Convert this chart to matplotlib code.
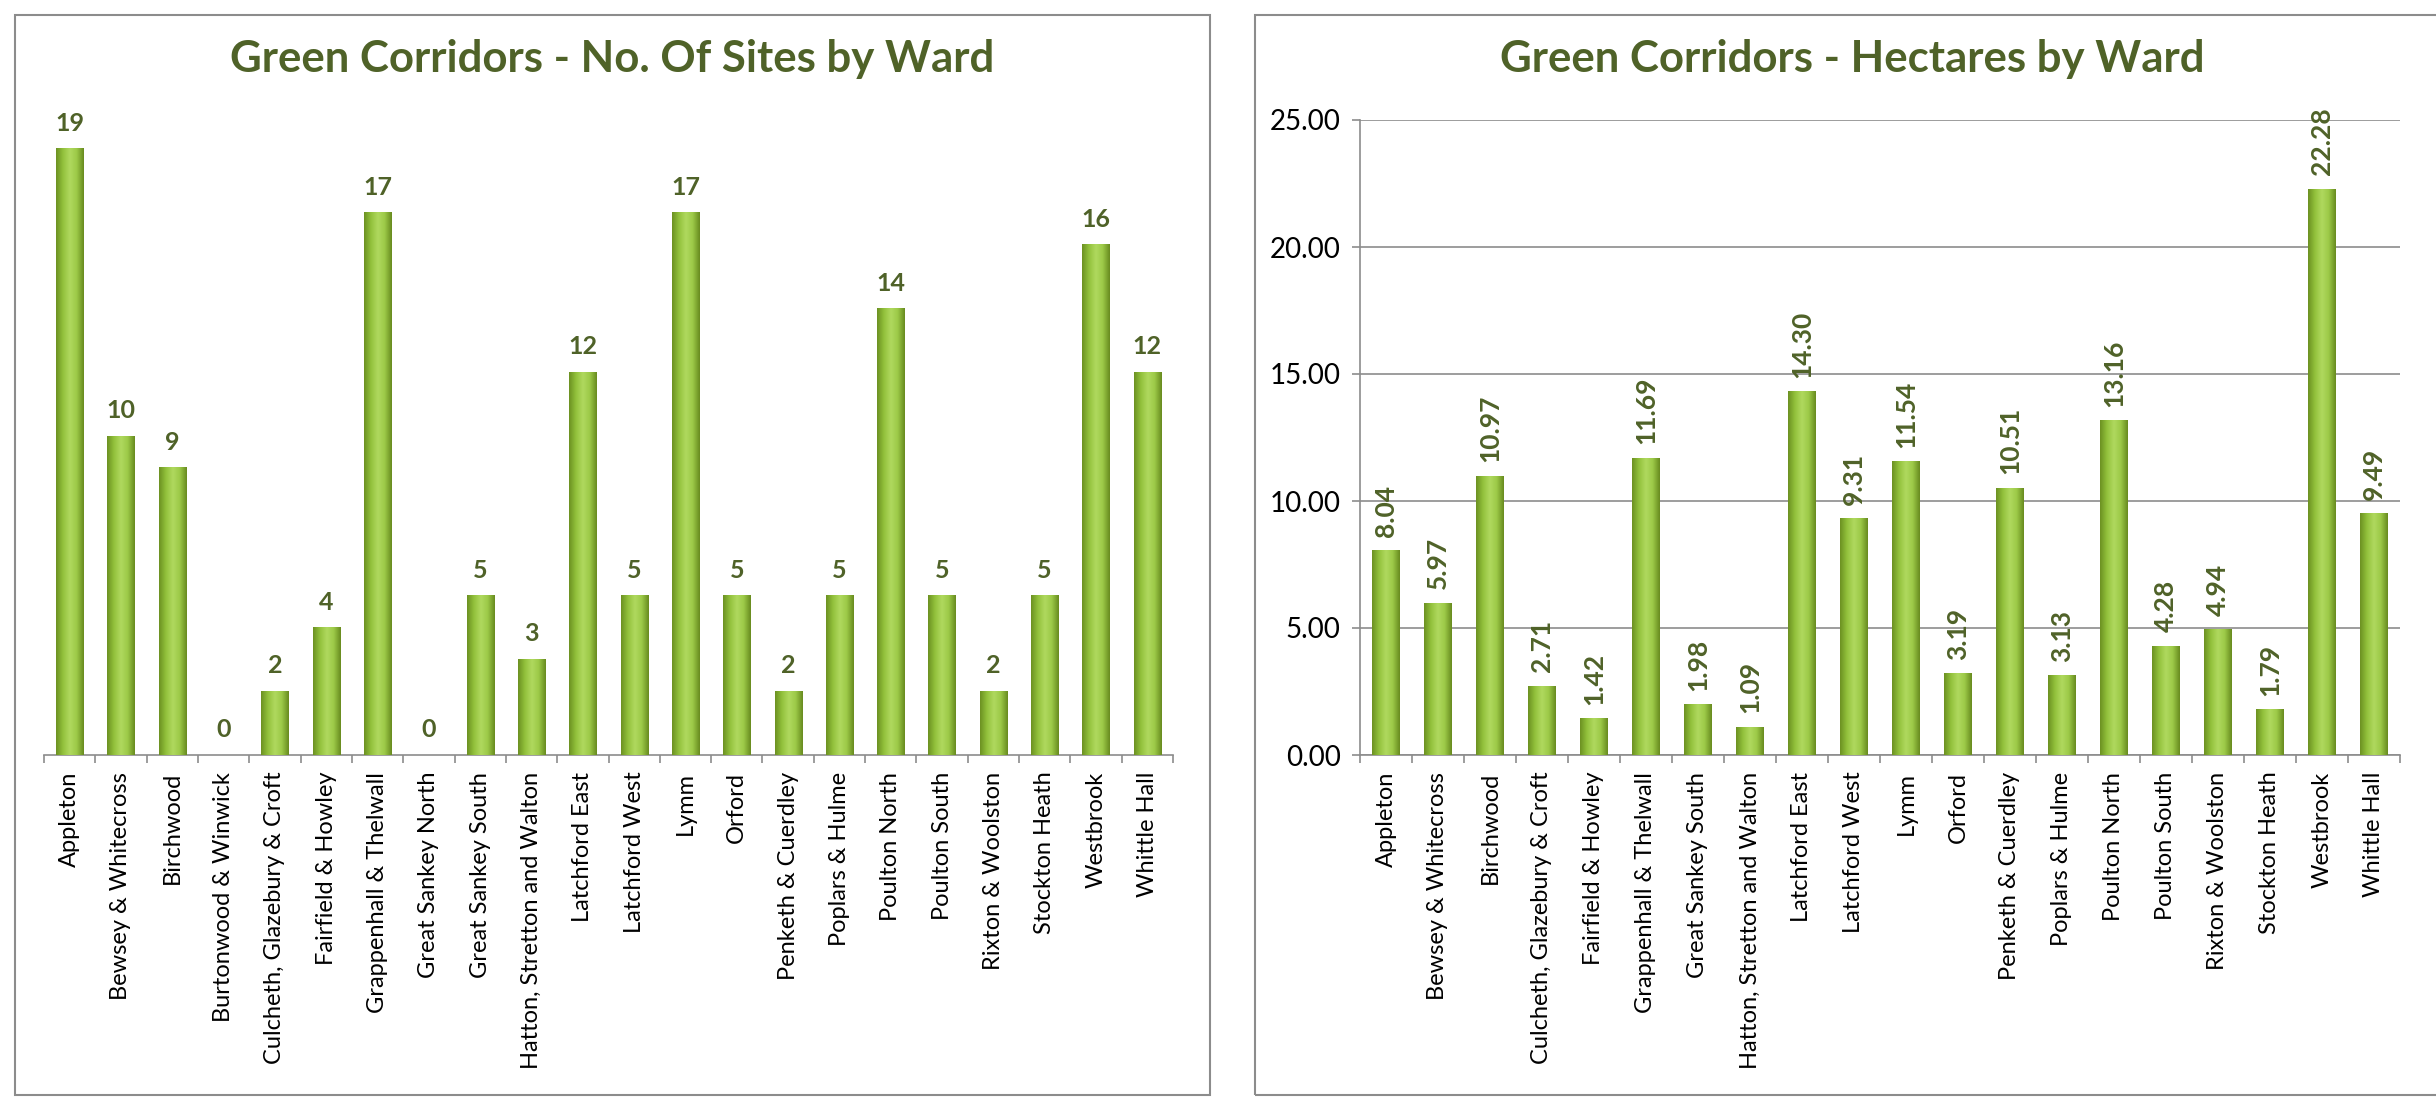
import matplotlib
matplotlib.use('Agg')
import matplotlib.pyplot as plt
import numpy as np
from matplotlib.colors import LinearSegmentedColormap
from matplotlib.patches import Rectangle

# --- data -------------------------------------------------------------
site_wards = ['Appleton', 'Bewsey & Whitecross', 'Birchwood', 'Burtonwood & Winwick',
              'Culcheth, Glazebury & Croft', 'Fairfield & Howley', 'Grappenhall & Thelwall',
              'Great Sankey North', 'Great Sankey South', 'Hatton, Stretton and Walton',
              'Latchford East', 'Latchford West', 'Lymm', 'Orford', 'Penketh & Cuerdley',
              'Poplars & Hulme', 'Poulton North', 'Poulton South', 'Rixton & Woolston',
              'Stockton Heath', 'Westbrook', 'Whittle Hall']
sites = [19, 10, 9, 0, 2, 4, 17, 0, 5, 3, 12, 5, 17, 5, 2, 5, 14, 5, 2, 5, 16, 12]

ha_wards = ['Appleton', 'Bewsey & Whitecross', 'Birchwood', 'Culcheth, Glazebury & Croft',
            'Fairfield & Howley', 'Grappenhall & Thelwall', 'Great Sankey South',
            'Hatton, Stretton and Walton', 'Latchford East', 'Latchford West', 'Lymm',
            'Orford', 'Penketh & Cuerdley', 'Poplars & Hulme', 'Poulton North',
            'Poulton South', 'Rixton & Woolston', 'Stockton Heath', 'Westbrook', 'Whittle Hall']
hectares = [8.04, 5.97, 10.97, 2.71, 1.42, 11.69, 1.98, 1.09, 14.30, 9.31, 11.54,
            3.19, 10.51, 3.13, 13.16, 4.28, 4.94, 1.79, 22.28, 9.49]

TITLE_COL = '#4f6228'
GRAY = '#8c8c8c'
# cylinder-like shading across each bar
CYL = LinearSegmentedColormap.from_list(
    'cyl', ['#6c9122', '#93c23c', '#b0d95f', '#9cc947', '#688b1f'])

plt.rcParams['font.family'] = ['Lato', 'DejaVu Sans']

W, H = 2436, 1097


def shaded_bars(ax, vals):
    x = np.arange(len(vals))
    bars = ax.bar(x, vals, 0.53, color='#93c23c', zorder=2)
    grad = np.linspace(0, 1, 64).reshape(1, -1)
    for b in bars:
        if b.get_height() <= 0:
            continue
        ax.imshow(grad, cmap=CYL, aspect='auto', interpolation='bicubic', zorder=3,
                  extent=[b.get_x(), b.get_x() + b.get_width(), 0, b.get_height()])
    return bars


def style_x(ax, labels):
    n = len(labels)
    ax.set_xlim(-0.5, n - 0.5)
    ax.set_xticks(range(n))
    ax.set_xticklabels(labels, rotation=90, fontsize=17)
    ax.tick_params(axis='x', which='major', length=0, pad=12)
    ax.set_xticks(np.arange(n + 1) - 0.5, minor=True)
    ax.tick_params(axis='x', which='minor', length=6, color=GRAY, width=1.2)
    for s in ['top', 'right']:
        ax.spines[s].set_visible(False)
    ax.spines['bottom'].set_color(GRAY)
    ax.spines['bottom'].set_linewidth(1.2)


fig = plt.figure(figsize=(W / 100, H / 100), dpi=100)

# panel borders
fig.patches.append(Rectangle((15 / W, 2 / H), 1195 / W, 1080 / H, transform=fig.transFigure,
                             fill=False, edgecolor=GRAY, linewidth=1.5))
fig.patches.append(Rectangle((1255 / W, 2 / H), 1300 / W, 1080 / H, transform=fig.transFigure,
                             fill=False, edgecolor=GRAY, linewidth=1.5))

# left chart: number of sites
ax1 = fig.add_axes([44 / W, 342 / H, 1129 / W, 638 / H])
b1 = shaded_bars(ax1, sites)
style_x(ax1, site_wards)
ax1.set_ylim(0, 20)
ax1.set_yticks([])
ax1.spines['left'].set_visible(False)
ax1.bar_label(b1, fmt='%d', padding=10, color=TITLE_COL, fontweight='bold', fontsize=18)
fig.text(612 / W, 1 - 59 / H, 'Green Corridors - No. Of Sites by Ward', ha='center',
         va='center', fontsize=31.5, fontweight='bold', color=TITLE_COL)

# right chart: hectares
ax2 = fig.add_axes([1360 / W, 342 / H, 1040 / W, 635 / H])
b2 = shaded_bars(ax2, hectares)
style_x(ax2, ha_wards)
ax2.set_ylim(0, 25)
ax2.set_yticks(np.arange(0, 26, 5))
ax2.set_yticklabels([f'{v:.2f}' for v in np.arange(0, 26, 5)], fontsize=20)
ax2.tick_params(axis='y', length=6, color=GRAY, width=1.2, pad=8)
ax2.spines['left'].set_color(GRAY)
ax2.spines['left'].set_linewidth(1.2)
ax2.grid(axis='y', color=GRAY, linewidth=1.2, zorder=0)
ax2.set_axisbelow(True)
ax2.bar_label(b2, fmt='%.2f', padding=10, rotation=90, color=TITLE_COL,
              fontweight='bold', fontsize=19)
fig.text(1852 / W, 1 - 59 / H, 'Green Corridors - Hectares by Ward', ha='center',
         va='center', fontsize=31.5, fontweight='bold', color=TITLE_COL)

fig.savefig('out.png', dpi=100, facecolor='white')
